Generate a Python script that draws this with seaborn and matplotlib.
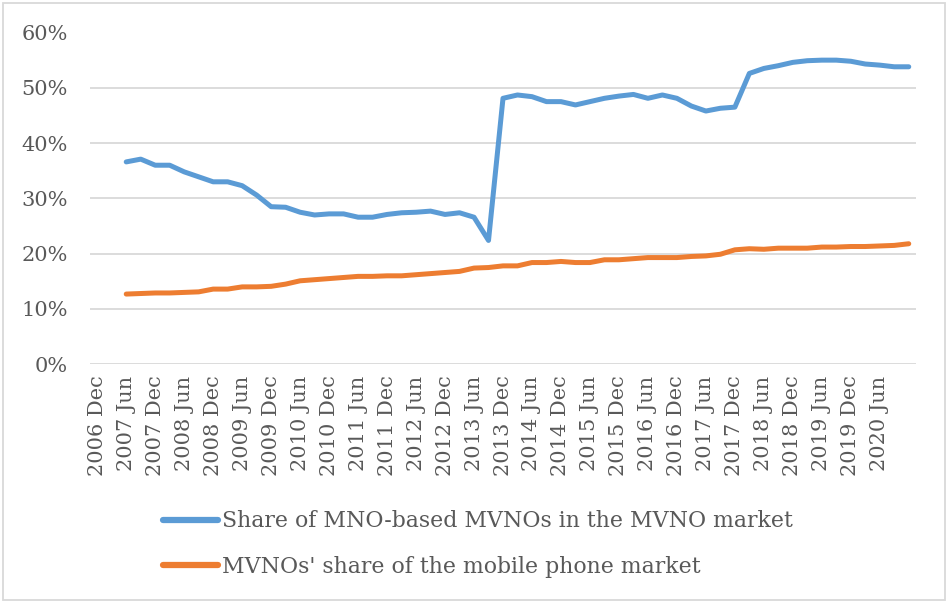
import numpy as np
import pandas as pd
import matplotlib.pyplot as plt
import seaborn as sns
from matplotlib.patches import Rectangle

# Quarterly categories on the axis, 2006 Dec .. 2020 Dec
quarters = [f"{y} {m}" for y in range(2006, 2021) for m in ["Mar", "Jun", "Sep", "Dec"]]
quarters = quarters[quarters.index("2006 Dec"):]

# data starts at 2007 Jun (percent)
start = "2007 Jun"
mno_share = [36.6, 37.1, 36.0, 36.0, 34.8, 33.9, 33.0, 33.0, 32.3, 30.6,
             28.5, 28.4, 27.5, 27.0, 27.2, 27.2, 26.6, 26.6, 27.1, 27.4,
             27.5, 27.7, 27.1, 27.4, 26.6, 22.4, 48.1, 48.7, 48.4, 47.5,
             47.5, 46.9, 47.5, 48.1, 48.5, 48.8, 48.1, 48.7, 48.1, 46.7,
             45.8, 46.3, 46.5, 52.6, 53.5, 54.0, 54.6, 54.9, 55.0, 55.0,
             54.8, 54.3, 54.1, 53.8, 53.8]
mvno_share = [12.7, 12.8, 12.9, 12.9, 13.0, 13.1, 13.6, 13.6, 14.0, 14.0,
              14.1, 14.5, 15.1, 15.3, 15.5, 15.7, 15.9, 15.9, 16.0, 16.0,
              16.2, 16.4, 16.6, 16.8, 17.4, 17.5, 17.8, 17.8, 18.4, 18.4,
              18.6, 18.4, 18.4, 18.9, 18.9, 19.1, 19.3, 19.3, 19.3, 19.5,
              19.6, 19.9, 20.7, 20.9, 20.8, 21.0, 21.0, 21.0, 21.2, 21.2,
              21.3, 21.3, 21.4, 21.5, 21.8]

label_mno = "Share of MNO-based MVNOs in the MVNO market"
label_mvno = "MVNOs' share of the mobile phone market"

first = quarters.index(start)
pos = np.arange(first, first + len(mno_share))
df = pd.DataFrame({"pos": np.concatenate([pos, pos]),
                   "share": np.array(mno_share + mvno_share) / 100,
                   "series": [label_mno] * len(mno_share) + [label_mvno] * len(mvno_share)})

sns.set_theme(style="white")
plt.rcParams["font.family"] = ["DejaVu Serif"]
text_col = "#595959"

fig = plt.figure(figsize=(9.46, 6.03), dpi=100)
ax = fig.add_axes([90 / 946, 1 - 364.3 / 603, 826 / 946, 331.8 / 603])

sns.lineplot(data=df, x="pos", y="share", hue="series",
             palette={label_mno: "#5B9BD5", label_mvno: "#ED7D31"},
             linewidth=3.6, ax=ax, legend=True)

ax.set_xlim(-0.5, len(quarters) - 0.5)
ax.set_ylim(0, 0.6)
ax.set_yticks(np.arange(0, 0.61, 0.1))
ax.set_yticklabels([f"{int(round(v * 100))}%" for v in np.arange(0, 0.61, 0.1)])
ax.set_xticks(range(0, len(quarters) - 1, 2))
ax.set_xticklabels(quarters[0:len(quarters) - 1:2], rotation=90)
ax.grid(axis="y", color="#D9D9D9", linewidth=1.3)
ax.set_axisbelow(True)
ax.tick_params(axis="y", length=0, pad=16, labelsize=15, labelcolor=text_col)
ax.tick_params(axis="x", length=0, pad=8, labelsize=15, labelcolor=text_col)
ax.set_xlabel("")
ax.set_ylabel("")
for s in ax.spines.values():
    s.set_visible(False)

handles, labels = ax.get_legend_handles_labels()
ax.get_legend().remove()
leg = fig.legend(handles, labels, loc="center left", bbox_to_anchor=(163 / 946, 1 - 544 / 603),
                 frameon=False, fontsize=15.8, labelcolor=text_col, handlelength=2.5,
                 handletextpad=0.2, labelspacing=1.05, borderpad=0, borderaxespad=0)
for h in leg.get_lines():
    h.set_linewidth(4.5)

fig.patches.append(Rectangle((3 / 946, 3 / 603), 942 / 946, 597 / 603, transform=fig.transFigure,
                             fill=False, edgecolor="#D9D9D9", linewidth=1.3))

fig.savefig("out.png", dpi=100)
